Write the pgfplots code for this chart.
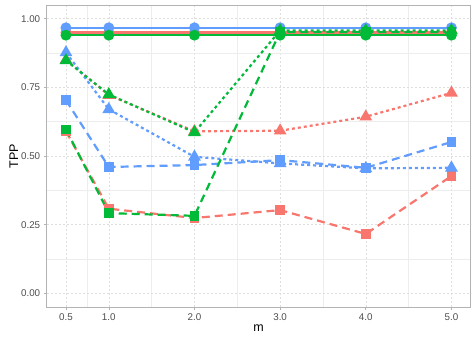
\documentclass[border=0pt]{standalone}
\usepackage{pgfplots}
\pgfplotsset{compat=1.18}
\usepackage{fontspec}
\setmainfont{Liberation Sans}
\definecolor{gred}{HTML}{F8766D}
\definecolor{ggreen}{HTML}{00BA38}
\definecolor{gblue}{HTML}{619CFF}
\definecolor{gframe}{HTML}{B3B3B3}
\definecolor{glab}{HTML}{4D4D4D}
\definecolor{gmaj}{HTML}{DEDEDE}
\definecolor{gmin}{HTML}{EDEDED}
\begin{document}
\begin{tikzpicture}
\begin{axis}[
    name=ax,
    scale only axis,
    width=424pt, height=302pt,
    xmin=0.275, xmax=5.225,
    ymin=-0.05, ymax=1.05,
    xtick={0.5,1,2,3,4,5},
    xticklabels={0.5,1.0,2.0,3.0,4.0,5.0},
    ytick={0,0.25,0.5,0.75,1},
    yticklabels={0.00,0.25,0.50,0.75,1.00},
    minor xtick={0.75,1.5,2.5,3.5,4.5},
    minor ytick={0.125,0.375,0.625,0.875},
    grid=both,
    major grid style={gmaj, line width=0.5pt, dash pattern=on 2pt off 2pt},
    minor grid style={gmin, line width=0.6pt},
    axis line style={gframe, line width=0.8pt},
    tick style={gframe, line width=0.6pt},
    major tick length=3pt, minor tick length=0pt,
    tick align=outside,
    xtick pos=bottom, ytick pos=left,
    ticklabel style={font=\fontsize{9.8}{11}\selectfont, text=glab},
    /pgf/number format/assume math mode=true,
    xlabel={m}, ylabel={TPP},
    label style={font=\fontsize{12.5}{14}\selectfont},
    xlabel style={yshift=3pt},
    ylabel style={yshift=-4pt},
    every axis plot/.append style={line width=2.2pt},
    clip=false,
]
% lines: circles solid, triangles dotted, squares dashed
\addplot[gred, no markers] coordinates {(0.5,0.95) (1,0.95) (2,0.95) (3,0.95) (4,0.95) (5,0.95)};
\addplot[gred, no markers, dash pattern=on 3pt off 3pt] coordinates {(0.5,0.85) (1,0.722) (2,0.59) (3,0.592) (4,0.643) (5,0.73)};
\addplot[gred, no markers, dash pattern=on 8pt off 5pt] coordinates {(0.5,0.59) (1,0.308) (2,0.274) (3,0.303) (4,0.216) (5,0.427)};
\addplot[gblue, no markers] coordinates {(0.5,0.967) (1,0.967) (2,0.967) (3,0.967) (4,0.967) (5,0.967)};
\addplot[gblue, no markers, dash pattern=on 3pt off 3pt] coordinates {(0.5,0.877) (1,0.67) (2,0.497) (3,0.473) (4,0.455) (5,0.457)};
\addplot[gblue, no markers, dash pattern=on 8pt off 5pt] coordinates {(0.5,0.703) (1,0.46) (2,0.467) (3,0.485) (4,0.457) (5,0.551)};
\addplot[ggreen, no markers] coordinates {(0.5,0.94) (1,0.94) (2,0.94) (3,0.94) (4,0.94) (5,0.94)};
\addplot[ggreen, no markers, dash pattern=on 3pt off 3pt] coordinates {(0.5,0.848) (1,0.724) (2,0.586) (3,0.957) (4,0.957) (5,0.957)};
\addplot[ggreen, no markers, dash pattern=on 8pt off 5pt] coordinates {(0.5,0.597) (1,0.292) (2,0.282) (3,0.952) (4,0.952) (5,0.952)};
% points
\addplot[only marks, gred, mark=*, mark size=4.3pt] coordinates {(0.5,0.95) (1,0.95) (2,0.95) (3,0.95) (4,0.95) (5,0.95)};
\addplot[only marks, gred, mark=triangle*, mark size=5.2pt] coordinates {(0.5,0.85) (1,0.722) (2,0.59) (3,0.592) (4,0.643) (5,0.73)};
\addplot[only marks, gred, mark=square*, mark size=3.7pt] coordinates {(0.5,0.59) (1,0.308) (2,0.274) (3,0.303) (4,0.216) (5,0.427)};
\addplot[only marks, gblue, mark=*, mark size=4.3pt] coordinates {(0.5,0.967) (1,0.967) (2,0.967) (3,0.967) (4,0.967) (5,0.967)};
\addplot[only marks, gblue, mark=triangle*, mark size=5.2pt] coordinates {(0.5,0.877) (1,0.67) (2,0.497) (3,0.473) (4,0.455) (5,0.457)};
\addplot[only marks, gblue, mark=square*, mark size=3.7pt] coordinates {(0.5,0.703) (1,0.46) (2,0.467) (3,0.485) (4,0.457) (5,0.551)};
\addplot[only marks, ggreen, mark=*, mark size=4.3pt] coordinates {(0.5,0.94) (1,0.94) (2,0.94) (3,0.94) (4,0.94) (5,0.94)};
\addplot[only marks, ggreen, mark=triangle*, mark size=5.2pt] coordinates {(0.5,0.848) (1,0.724) (2,0.586) (3,0.957) (4,0.957) (5,0.957)};
\addplot[only marks, ggreen, mark=square*, mark size=3.7pt] coordinates {(0.5,0.597) (1,0.292) (2,0.282) (3,0.952) (4,0.952) (5,0.952)};
\end{axis}
\pgfresetboundingbox
\path[use as bounding box] ([shift={(-46.7pt,-33.3pt)}]ax.south west) rectangle ([shift={(5.3pt,5pt)}]ax.north east);
\end{tikzpicture}
\end{document}
